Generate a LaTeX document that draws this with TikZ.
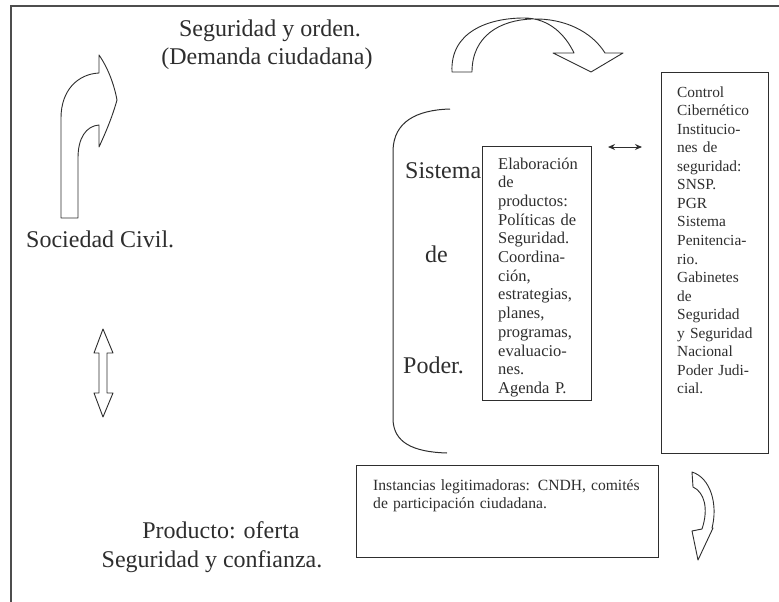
\documentclass[tikz,border=0pt]{standalone}
\usepackage{fontspec}
\setmainfont{Liberation Serif}
\usetikzlibrary{arrows.meta}
\definecolor{ink}{HTML}{2E2E2E}
\begin{document}
\begin{tikzpicture}[x=1pt,y=-1pt,
  bigtxt/.style={inner sep=0pt,text=ink,font=\fontsize{24}{28}\selectfont},
  smalltxt/.style={inner sep=0pt,text=ink,align=left,anchor=base west},
  boxshape/.style={draw=ink,line width=1.1pt,inner sep=0pt,anchor=north west},
  outline/.style={draw=ink,line width=0.9pt,fill=white,line join=round},
]
\useasboundingbox (0,0) rectangle (779,602);
\fill[white] (0,0) rectangle (779,602);

% outer frame (only the top and left edges fall inside the page)
\draw[ink!85,line width=1.6pt] (11,602) -- (11,6) -- (779,6);

% headline texts
\node[bigtxt,anchor=base] (demanda1) at (270,37) {Seguridad y orden.};
\node[bigtxt,anchor=base] (demanda2) at (267,65) {(Demanda ciudadana)};
\node[bigtxt,anchor=base west] (sociedad) at (26,247) {Sociedad Civil.};
\node[bigtxt,anchor=base] (oferta1) at (221,538) {Producto: oferta};
\node[bigtxt,anchor=base] (oferta2) at (212,567) {Seguridad y confianza.};

% Sistema de Poder
\node[bigtxt,anchor=base west] (sistema) at (405,178) {Sistema};
\node[bigtxt,anchor=base west] (de) at (425,262) {de};
\node[bigtxt,anchor=base west] (poder) at (403,373) {Poder.};
\draw[ink,line width=1pt] (450,109) .. controls (416,110) and (394,122) .. (393,150)
  -- (393,420) .. controls (394,442) and (412,452) .. (447,453);

% box: elaboracion de productos
\node[boxshape,minimum width=109pt,minimum height=254pt] (elab) at (482,146) {};
\node[smalltxt,text width=90pt,font=\fontsize{16.5}{18.7}\selectfont] (elabtxt) at (498,169)
  {Elaboración\\de\\productos:\\Políticas de\\Seguridad.\\Coordina-\\ción,\\estrategias,\\planes,\\programas,\\evaluacio-\\nes.\\Agenda P.};

% box: control cibernetico
\node[boxshape,minimum width=107pt,minimum height=381pt] (control) at (661,72) {};
\node[smalltxt,text width=90pt,font=\fontsize{15.4}{18.56}\selectfont] (controltxt) at (677,97)
  {Control\\Cibernético\\Institucio-\\nes de\\seguridad:\\SNSP.\\PGR\\Sistema\\Penitencia-\\rio.\\Gabinetes\\de\\Seguridad\\y Seguridad\\Nacional\\Poder Judi-\\cial.};

% exchange between both boxes
\coordinate (xa) at (608,147);
\coordinate (xb) at (642,147);
\draw[ink,line width=1pt,{Stealth[length=7pt,width=6pt]}-{Stealth[length=7pt,width=6pt]}] (xa) -- (xb);

% box: instancias legitimadoras
\node[boxshape,minimum width=302pt,minimum height=92pt] (inst) at (356,465) {};
\node[smalltxt,text width=290pt,font=\fontsize{15.6}{18}\selectfont] (insttxt) at (373,490)
  {Instancias legitimadoras: CNDH, comités\\de participación ciudadana.};

% bent arrow rising from the civil society
\draw[outline] (61,218) -- (61,118) .. controls (61,90) and (78,74) .. (99,73)
  -- (99,55) .. controls (108,68) and (114,84) .. (117,100)
  .. controls (112,118) and (105,134) .. (99,147)
  -- (99,125) .. controls (86,126) and (78,138) .. (78,158) -- (78,218) -- cycle;

% double arrow between society and product
\draw[outline] (103,329) -- (113,353) -- (107,353) -- (107,393) -- (113,393)
  -- (103,417) -- (94,393) -- (99,393) -- (99,353) -- (94,353) -- cycle;

% curved arrow over the top
\draw[outline] (452,72) .. controls (450,32) and (488,18) .. (524,18)
  .. controls (550,18) and (566,36) .. (574,53)
  -- (553,53) -- (591,72) -- (623,53) -- (605,53)
  .. controls (592,32) and (565,18) .. (532,19)
  .. controls (500,20) and (472,36) .. (472,72) -- cycle;

% small curved arrow beside the instancias box
\draw[outline] (692,472) .. controls (711,478) and (718,505) .. (712,528)
  -- (713,528) -- (698,560) -- (692,531) -- (702,529)
  .. controls (709,508) and (704,492) .. (693,487) -- cycle;
\end{tikzpicture}
\end{document}
